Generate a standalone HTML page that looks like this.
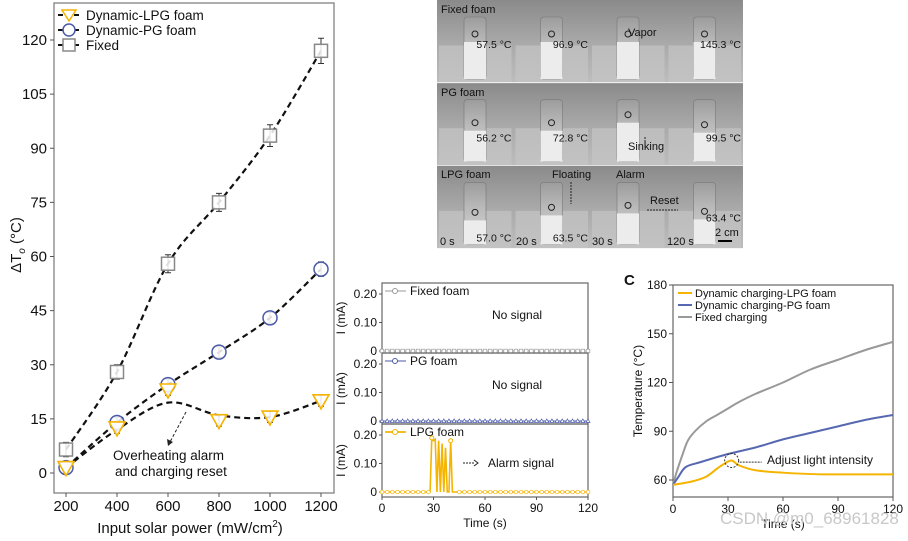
<!DOCTYPE html>
<html><head><meta charset="utf-8">
<style>
body{margin:0;background:#fff;font-family:"Liberation Sans",Arial,sans-serif;}
svg text{font-family:"Liberation Sans",Arial,sans-serif;}
</style></head>
<body>
<svg width="908" height="536" viewBox="0 0 908 536" xmlns="http://www.w3.org/2000/svg">
<defs>
<linearGradient id="bg" x1="0" y1="0" x2="0" y2="1"><stop offset="0" stop-color="#8a8a8a"/><stop offset="0.5" stop-color="#a8a8a8"/><stop offset="1" stop-color="#bdbdbd"/></linearGradient>
<linearGradient id="vial" x1="0" y1="0" x2="0" y2="1"><stop offset="0" stop-color="#9c9c9c"/><stop offset="0.4" stop-color="#b9b9b9"/><stop offset="1" stop-color="#d8d8d8"/></linearGradient>
</defs>
<g id="photos"></g>
<g id="left"></g>
<g id="mid"></g>
<g id="right"></g>
<text x="720" y="524" font-size="17" fill="#c8c8c8">CSDN @m0_68961828</text>
</svg>
<script>
// ---------- Left chart data ----------
const powers=[200,400,600,800,1000,1200];
const fixedDT=[6.5,28,58,75,93.5,117];
const fixedErr=[2,2,2.5,2.5,3,3.5];
const pgDT=[1.5,14,24.5,33.5,43,56.5];
const pgErr=[1.5,1.5,1.5,1.5,1.5,2];
const lpgDT=[1.5,12.5,23,14.5,15.5,20];
const lpgErr=[1.5,1.5,1.5,1.5,1.5,1.5];
const lpgFit=[1.5,12,19.5,16,15.5,20];
const leftYTicks=[0,15,30,45,60,75,90,105,120];
// ---------- Middle chart data ----------
const midXTicks=[0,30,60,90,120];
const lpgT=[0,28,29,30,31,32,33,34,35,36,37,38,39,40,41,120];
const lpgI=[0,0,0.19,0.18,0.185,0,0.18,0,0.17,0,0.155,0,0,0.18,0,0];
// ---------- Right chart data ----------
const rFixT=[0,2,5,8,12,18,24,30,36,45,60,75,90,105,120];
const rFixV=[57,65,75,84,90,96,100,104,108,113,120,128,134,140,145];
const rPgT=[0,3,7,15,30,45,60,75,90,105,120];
const rPgV=[57,62,68,71,76,80,85,89,93,97,100];
const rLpgT=[0,10,18,24,28,32,36,45,60,80,100,120];
const rLpgV=[57,59,62,67,70,72,69,66,64.5,63.5,63.5,63.5];
const rYTicks=[60,90,120,150,180];
const rXTicks=[0,30,60,90,120];

const NS="http://www.w3.org/2000/svg";
function mk(parent,tag,attrs,name,txt){const e=document.createElementNS(NS,tag);for(const k in attrs)e.setAttribute(k,attrs[k]);


if(txt!==undefined)e.textContent=txt;parent.appendChild(e);return e;}
function smooth(pts){let d=`M${pts[0][0]},${pts[0][1]}`;for(let i=0;i<pts.length-1;i++){const p0=pts[i-1]||pts[i],p1=pts[i],p2=pts[i+1],p3=pts[i+2]||p2;
d+=` C${p1[0]+(p2[0]-p0[0])/6},${p1[1]+(p2[1]-p0[1])/6} ${p2[0]-(p3[0]-p1[0])/6},${p2[1]-(p3[1]-p1[1])/6} ${p2[0]},${p2[1]}`;}return d;}

// ---------- Photos ----------
(function(){const g=document.getElementById('photos');const x0=437,w=76.5,h=82.7;
const temps=[["57.5 °C","96.9 °C","","145.3 °C"],["56.2 °C","72.8 °C","","99.5 °C"],["57.0 °C","63.5 °C","","63.4 °C"]];
const liq=[[42,42,42,42],[48,48,40,50],[55,50,48,54]];
for(let r=0;r<3;r++)for(let c=0;c<4;c++){const x=x0+c*w,y=r*h;
mk(g,'rect',{x:x,y:y,width:w,height:h,fill:'url(#bg)'},'photo-cell');
mk(g,'rect',{x:x+2,y:y+h*0.55,width:w-4,height:h*0.45,fill:'#c4c4c4',opacity:0.7},'photo-surface');
mk(g,'rect',{x:x+27,y:y+17,width:22,height:62,rx:3,fill:'url(#vial)',stroke:'#777','stroke-width':0.6},'vial');
mk(g,'rect',{x:x+27,y:y+liq[r][c],width:22,height:79-liq[r][c],fill:'#ececec'},'vial-liquid');
mk(g,'circle',{cx:x+38,cy:y+liq[r][c]-8,r:3,fill:'none',stroke:'#222','stroke-width':1},'foam-marker');
if(temps[r][c])mk(g,'text',{x:x+w-2,y:y+(r==2&&c==3?56:r==2?76:r==1?59:48),'font-size':10.5,'text-anchor':'end',fill:'#111'},'temp-label',temps[r][c]);}
mk(g,'line',{x1:x0,y1:h,x2:x0+4*w,y2:h,stroke:'#fff','stroke-width':0.8},'row-sep');
mk(g,'line',{x1:x0,y1:2*h,x2:x0+4*w,y2:2*h,stroke:'#fff','stroke-width':0.8},'row-sep');
const L=[["Fixed foam",441,13],["PG foam",441,96],["LPG foam",441,178],["Vapor",628,36],["Sinking",628,150],["Floating",552,178],["Alarm",616,178],["Reset",650,204],["0 s",440,245],["20 s",516,245],["30 s",592,245],["120 s",667,245],["2 cm",715,236]];
L.forEach(l=>mk(g,'text',{x:l[1],y:l[2],'font-size':11,fill:'#111'},'photo-label',l[0]));
mk(g,'line',{x1:645,y1:137,x2:645,y2:147,stroke:'#222','stroke-dasharray':'2,1'},'sinking-arrow');
mk(g,'line',{x1:571,y1:182,x2:571,y2:204,stroke:'#222','stroke-dasharray':'2,1'},'floating-arrow');
mk(g,'line',{x1:647,y1:210,x2:678,y2:210,stroke:'#222','stroke-dasharray':'2,1'},'reset-arrow');
mk(g,'line',{x1:718,y1:241,x2:732,y2:241,stroke:'#000','stroke-width':2},'scale-bar');
})();

// ---------- Left chart ----------
(function(){const g=document.getElementById('left');
const X=v=>66+(v-200)*(321-66)/1000, Y=v=>473-v*(473-40)/120;
mk(g,'rect',{x:54,y:3,width:280,height:490,fill:'none',stroke:'#777','stroke-width':1.2},'plot-frame');
leftYTicks.forEach(t=>{mk(g,'line',{x1:50,x2:54,y1:Y(t),y2:Y(t),stroke:'#555'},'y-tick');
mk(g,'text',{x:47,y:Y(t)+5,'font-size':15,'text-anchor':'end',fill:'#111'},'y-tick-label',t);});
powers.forEach(p=>{mk(g,'line',{x1:X(p),x2:X(p),y1:493,y2:497,stroke:'#555'},'x-tick');
mk(g,'text',{x:X(p),y:511,'font-size':15,'text-anchor':'middle',fill:'#111'},'x-tick-label',p);});
mk(g,'text',{x:190,y:533,'font-size':15,'text-anchor':'middle',fill:'#111'},'x-axis-title').innerHTML='Input solar power (mW/cm<tspan font-size="10" dy="-6">2</tspan><tspan dy="6">)</tspan>';
mk(g,'text',{transform:'translate(21,245) rotate(-90)','font-size':15,'text-anchor':'middle',fill:'#111'},'y-axis-title').innerHTML='ΔT<tspan font-style="italic" font-size="10" dy="4">o</tspan><tspan dy="-4"> (°C)</tspan>';
const dash={fill:'none',stroke:'#111','stroke-width':2.2,'stroke-dasharray':'6,4'};
mk(g,'path',Object.assign({d:smooth(powers.map((p,i)=>[X(p),Y(fixedDT[i])]))},dash),'fixed-line');
mk(g,'path',Object.assign({d:smooth(powers.map((p,i)=>[X(p),Y(pgDT[i])]))},dash),'pg-line');
mk(g,'path',Object.assign({d:smooth(powers.map((p,i)=>[X(p),Y(lpgFit[i])]))},dash),'lpg-fit-line');
function err(v,e,x,n){mk(g,'path',{d:`M${x},${Y(v-e)}V${Y(v+e)}M${x-3},${Y(v-e)}h6M${x-3},${Y(v+e)}h6`,stroke:'#333','stroke-width':1},n);}
powers.forEach((p,i)=>{const x=X(p);
err(fixedDT[i],fixedErr[i],x,'fixed-error-bar');err(pgDT[i],pgErr[i],x,'pg-error-bar');err(lpgDT[i],lpgErr[i],x,'lpg-error-bar');
mk(g,'rect',{x:x-6.5,y:Y(fixedDT[i])-6.5,width:13,height:13,fill:'#fff','fill-opacity':0.85,stroke:'#888','stroke-width':1.5},'fixed-marker');
mk(g,'circle',{cx:x,cy:Y(pgDT[i]),r:7,fill:'#fff','fill-opacity':0.85,stroke:'#4a5aa8','stroke-width':1.5},'pg-marker');
const y=Y(lpgDT[i]);mk(g,'path',{d:`M${x-8},${y-6}L${x+8},${y-6}L${x},${y+8}Z`,fill:'#fff','fill-opacity':0.85,stroke:'#f5b400','stroke-width':1.6},'lpg-marker');});
const leg=[["Dynamic-LPG foam",15],["Dynamic-PG foam",30],["Fixed",45]];
leg.forEach((l,i)=>{const y=l[1];mk(g,'path',{d:`M58,${y}h22`,stroke:'#111','stroke-width':2,'stroke-dasharray':'5,3'},'legend-line');
if(i==0)mk(g,'path',{d:`M62,${y-5}L76,${y-5}L69,${y+6}Z`,fill:'#fff',stroke:'#f5b400','stroke-width':1.5},'legend-marker');
if(i==1)mk(g,'circle',{cx:69,cy:y,r:6,fill:'#fff',stroke:'#4a5aa8','stroke-width':1.5},'legend-marker');
if(i==2)mk(g,'rect',{x:63,y:y-6,width:12,height:12,fill:'#fff',stroke:'#888','stroke-width':1.5},'legend-marker');
mk(g,'text',{x:86,y:y+5,'font-size':13.5,fill:'#111'},'legend-label',l[0]);});
mk(g,'line',{x1:186,y1:412,x2:170,y2:442,stroke:'#222','stroke-dasharray':'3,2'},'annotation-arrow');
mk(g,'path',{d:'M168,446 l-1,-7 l6,3 z',fill:'#222'},'annotation-arrowhead');
mk(g,'text',{x:113,y:460,'font-size':13.5,fill:'#111'},'annotation','Overheating alarm');
mk(g,'text',{x:115,y:476,'font-size':13.5,fill:'#111'},'annotation','and charging reset');
})();

// ---------- Middle chart ----------
(function(){const g=document.getElementById('mid');
const X=t=>382+t*(588-382)/120;
const panels=[{top:283,bot:353,z:351,name:'Fixed foam',col:'#999',m:'sq',txt:'No signal'},{top:353,bot:424,z:421,name:'PG foam',col:'#4a5aa8',m:'tri',txt:'No signal'},{top:424,bot:497,z:492,name:'LPG foam',col:'#f5b400',m:'circ'}];
panels.forEach((p,k)=>{const Y=v=>p.z-v*57/0.2;
mk(g,'rect',{x:382,y:p.top,width:206,height:p.bot-p.top,fill:'none',stroke:'#666','stroke-width':1.2},'subplot-frame');
[0,0.1,0.2].forEach(t=>{mk(g,'line',{x1:379,x2:382,y1:Y(t),y2:Y(t),stroke:'#555'},'y-tick');
mk(g,'text',{x:377,y:Y(t)+4,'font-size':12,'text-anchor':'end',fill:'#111'},'y-tick-label',t==0?'0':t.toFixed(2));});
mk(g,'text',{transform:`translate(345,${(p.top+p.bot)/2}) rotate(-90)`,'font-size':12,'text-anchor':'middle',fill:'#111'},'y-axis-title','I (mA)');
if(k<2){mk(g,'line',{x1:382,x2:588,y1:p.z,y2:p.z,stroke:p.col,'stroke-width':1},'signal-line');}
else{mk(g,'polyline',{points:lpgT.map((t,i)=>`${X(t)},${Y(lpgI[i])}`).join(' '),fill:'none',stroke:p.col,'stroke-width':1.6},'signal-line');}
for(let t=0;t<=120;t+=3){const x=X(t);let y=p.z;
if(k==0)mk(g,'rect',{x:x-1.8,y:y-1.8,width:3.6,height:3.6,fill:'#fff',stroke:p.col,'stroke-width':0.7},'signal-marker');
else if(k==1)mk(g,'path',{d:`M${x-2},${y+1.5}L${x+2},${y+1.5}L${x},${y-2}Z`,fill:'#fff',stroke:p.col,'stroke-width':0.7},'signal-marker');
else if(t<28||t>42)mk(g,'circle',{cx:x,cy:y,r:1.8,fill:'#fff',stroke:p.col,'stroke-width':0.7},'signal-marker');}
if(k==2){mk(g,'circle',{cx:X(29),cy:Y(0.19),r:2,fill:'#fff',stroke:p.col},'signal-marker');mk(g,'circle',{cx:X(40),cy:Y(0.18),r:2,fill:'#fff',stroke:p.col},'signal-marker');}
const ly=p.top+8;mk(g,'line',{x1:385,x2:406,y1:ly,y2:ly,stroke:p.col,'stroke-width':k==2?1.8:1},'legend-line');
mk(g,'circle',{cx:395,cy:ly,r:2.5,fill:'#fff',stroke:p.col},'legend-marker');
mk(g,'text',{x:410,y:ly+4,'font-size':12,fill:'#111'},'legend-label',p.name);
if(p.txt)mk(g,'text',{x:492,y:p.top+36,'font-size':12,fill:'#111'},'no-signal-label',p.txt);});
mk(g,'line',{x1:463,x2:475,y1:463,y2:463,stroke:'#222','stroke-dasharray':'2,1'},'alarm-arrow');
mk(g,'path',{d:'M474,460l4,3l-4,3',fill:'none',stroke:'#222'},'alarm-arrowhead');
mk(g,'text',{x:488,y:467,'font-size':12,fill:'#111'},'alarm-label','Alarm signal');
midXTicks.forEach(t=>{mk(g,'line',{x1:X(t),x2:X(t),y1:497,y2:500,stroke:'#555'},'x-tick');
mk(g,'text',{x:X(t),y:512,'font-size':12,'text-anchor':'middle',fill:'#111'},'x-tick-label',t);});
mk(g,'text',{x:485,y:527,'font-size':12,'text-anchor':'middle',fill:'#111'},'x-axis-title','Time (s)');
})();

// ---------- Right chart ----------
(function(){const g=document.getElementById('right');
const X=t=>673+t*(893-673)/120, Y=v=>480-(v-60)*(480-285)/120;
mk(g,'text',{x:624,y:285,'font-size':15,'font-weight':'bold',fill:'#111'},'panel-label','C');
mk(g,'rect',{x:673,y:285,width:220,height:212,fill:'none',stroke:'#666','stroke-width':1.2},'plot-frame');
rYTicks.forEach(t=>{mk(g,'line',{x1:669,x2:673,y1:Y(t),y2:Y(t),stroke:'#555'},'y-tick');
mk(g,'text',{x:667,y:Y(t)+4,'font-size':12,'text-anchor':'end',fill:'#111'},'y-tick-label',t);});
rXTicks.forEach(t=>{mk(g,'line',{x1:X(t),x2:X(t),y1:497,y2:501,stroke:'#555'},'x-tick');
mk(g,'text',{x:X(t),y:513,'font-size':12,'text-anchor':'middle',fill:'#111'},'x-tick-label',t);});
mk(g,'text',{x:783,y:528,'font-size':12,'text-anchor':'middle',fill:'#111'},'x-axis-title','Time (s)');
mk(g,'text',{transform:'translate(642,391) rotate(-90)','font-size':12,'text-anchor':'middle',fill:'#111'},'y-axis-title','Temperature (°C)');
const ln=(T,V,c,n)=>mk(g,'path',{d:smooth(T.map((t,i)=>[X(t),Y(V[i])])),fill:'none',stroke:c,'stroke-width':2},n);
ln(rFixT,rFixV,'#999','fixed-charging-line');ln(rPgT,rPgV,'#5668b0','pg-line');ln(rLpgT,rLpgV,'#f5b400','lpg-line');
mk(g,'circle',{cx:X(32),cy:Y(72),r:7,fill:'none',stroke:'#333','stroke-dasharray':'2,1.5'},'highlight-circle');
mk(g,'line',{x1:X(32)+8,x2:X(32)+30,y1:Y(71),y2:Y(71),stroke:'#333','stroke-dasharray':'2,1'},'annot-arrow');
mk(g,'text',{x:767,y:464,'font-size':12,fill:'#111'},'annotation','Adjust light intensity');
const leg=[["Dynamic charging-LPG foam",'#f5b400',293],["Dynamic charging-PG foam",'#5668b0',305],["Fixed charging",'#999',317]];
leg.forEach(l=>{mk(g,'line',{x1:678,x2:692,y1:l[2],y2:l[2],stroke:l[1],'stroke-width':2},'legend-line');
mk(g,'text',{x:695,y:l[2]+4,'font-size':11,fill:'#111'},'legend-label',l[0]);});
})();
</script>
</body></html>
